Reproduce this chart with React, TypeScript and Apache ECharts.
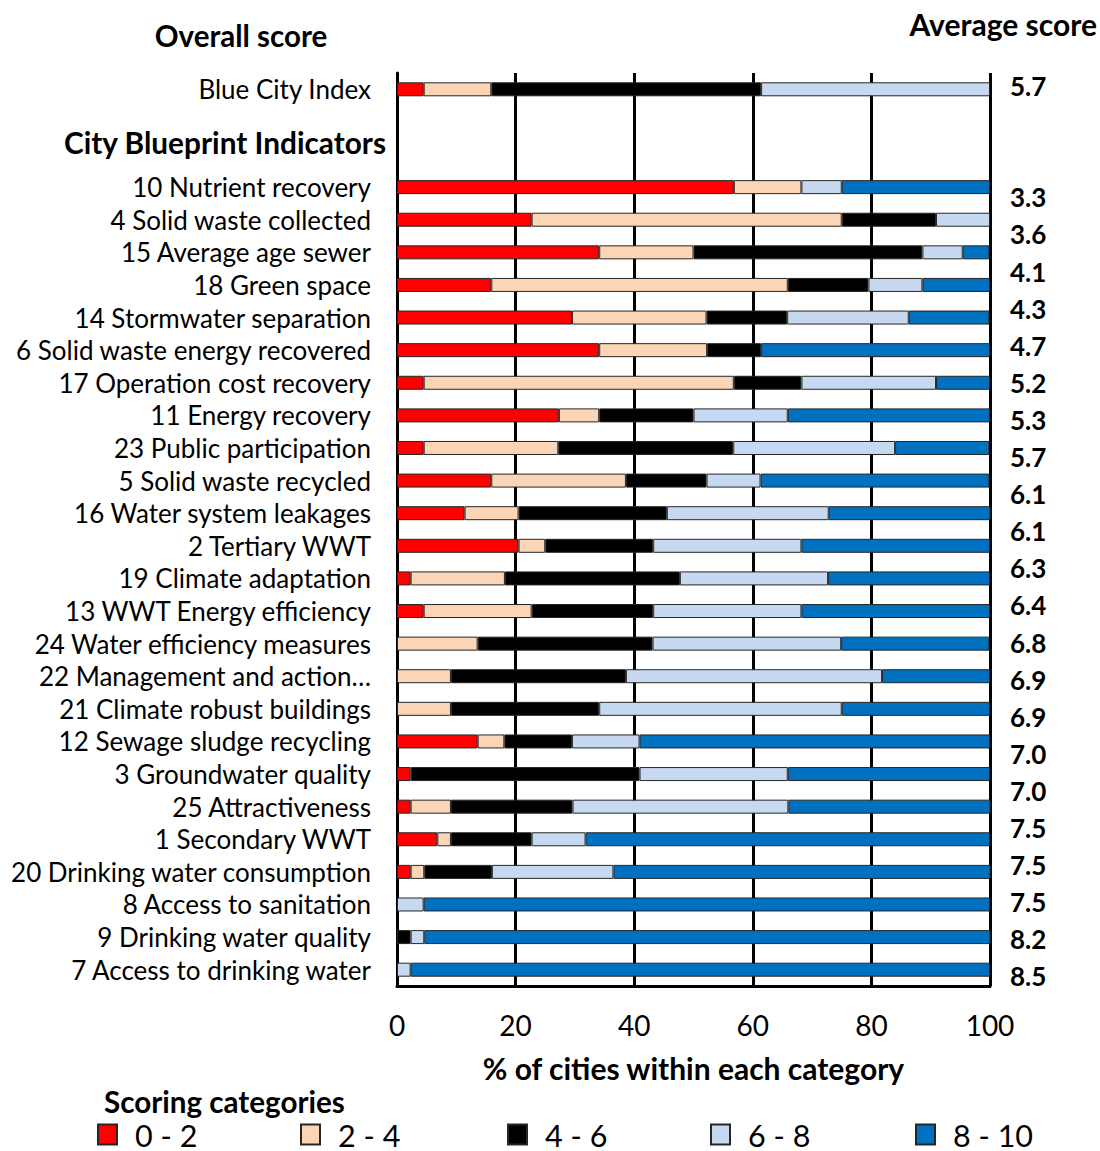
import React, { useEffect, useRef } from "react";
import * as echarts from "echarts";

// Row labels (top to bottom); two empty rows hold the "City Blueprint Indicators" heading
const categories = [
  "Blue City Index",
  "",
  "",
  "10 Nutrient recovery",
  "4 Solid waste collected",
  "15 Average age sewer",
  "18 Green space",
  "14 Stormwater separation",
  "6 Solid waste energy recovered",
  "17 Operation cost recovery",
  "11 Energy recovery",
  "23 Public participation",
  "5 Solid waste recycled",
  "16 Water system leakages",
  "2 Tertiary WWT",
  "19 Climate adaptation",
  "13 WWT Energy efficiency",
  "24 Water efficiency measures",
  "22 Management and action\u2026",
  "21 Climate robust buildings",
  "12 Sewage sludge recycling",
  "3 Groundwater quality",
  "25 Attractiveness",
  "1 Secondary WWT",
  "20 Drinking water consumption",
  "8 Access to sanitation",
  "9 Drinking water quality",
  "7 Access to drinking water",
];

// % of cities in each scoring category
const score0to2 = [4.5, null, null, 56.8, 22.7, 34.1, 15.9, 29.5, 34.1, 4.5, 27.3, 4.5, 15.9, 11.4, 20.5, 2.3, 4.5, 0, 0, 0, 13.6, 2.3, 2.3, 6.8, 2.3, 0, 0, 0];
const score2to4 = [11.4, null, null, 11.4, 52.3, 15.9, 50.0, 22.7, 18.2, 52.3, 6.8, 22.7, 22.7, 9.1, 4.5, 15.9, 18.2, 13.6, 9.1, 9.1, 4.5, 0, 6.8, 2.3, 2.3, 0, 0, 0];
const score4to6 = [45.5, null, null, 0, 15.9, 38.6, 13.6, 13.6, 9.1, 11.4, 15.9, 29.5, 13.6, 25.0, 18.2, 29.5, 20.5, 29.5, 29.5, 25.0, 11.4, 38.6, 20.5, 13.6, 11.4, 0, 2.3, 0];
const score6to8 = [38.6, null, null, 6.8, 9.1, 6.8, 9.1, 20.5, 0, 22.7, 15.9, 27.3, 9.1, 27.3, 25.0, 25.0, 25.0, 31.8, 43.2, 40.9, 11.4, 25.0, 36.4, 9.1, 20.5, 4.5, 2.3, 2.3];
const score8to10 = [0, null, null, 25.0, 0, 4.5, 11.4, 13.6, 38.6, 9.1, 34.1, 15.9, 38.6, 27.3, 31.8, 27.3, 31.8, 25.0, 18.2, 25.0, 59.1, 34.1, 34.1, 68.2, 63.6, 95.5, 95.5, 97.7];

// Average scores (right-hand column); two empty rows after the index
const averageScores = ["5.7", "", "", "3.3", "3.6", "4.1", "4.3", "4.7", "5.2", "5.3", "5.7", "6.1", "6.1", "6.3", "6.4", "6.8", "6.9", "6.9", "7.0", "7.0", "7.5", "7.5", "7.5", "8.2", "8.5"];

const seriesNames = ["0 - 2", "2 - 4", "4 - 6", "6 - 8", "8 - 10"];
const seriesColors = ["#FF0000", "#FBD5B5", "#000000", "#C6D9F1", "#0070C0"];
const seriesValues = [score0to2, score2to4, score4to6, score6to8, score8to10];

const xTicks = [0, 20, 40, 60, 80, 100];

const FONT = "Lato";

export default function App() {
  const ref = useRef<HTMLDivElement>(null);
  useEffect(() => {
    document.body.style.margin = "0";
    const chart = echarts.init(ref.current!, null, { renderer: "svg" });
    const legendLefts = [97, 300, 507, 710, 915];
    const option: any = {
      animation: false,
      backgroundColor: "#ffffff",
      textStyle: { fontFamily: FONT },
      grid: [
        { left: 397, right: 110, top: 73, bottom: 165, containLabel: false },
        { left: 900, right: 98, top: 67.5, height: 927.5, containLabel: false },
      ],
      legend: seriesNames.map((n, i) => ({
        data: [n],
        left: legendLefts[i],
        top: 1119,
        padding: 0,
        icon: "rect",
        itemWidth: 19,
        itemHeight: 20,
        itemGap: 0,
        selectedMode: false,
        textStyle: { fontFamily: FONT, fontSize: 30.5, lineHeight: 30, color: "#000", padding: [0, 0, 0, 13] },
      })),
      xAxis: [
        {
          gridIndex: 0,
          type: "value",
          min: xTicks[0],
          max: xTicks[xTicks.length - 1],
          interval: 20,
          axisLine: { show: true, lineStyle: { color: "#000", width: 3 } },
          axisTick: { show: false },
          splitLine: { show: true, lineStyle: { color: "#000", width: 3 } },
          axisLabel: { fontFamily: FONT, fontSize: 28, color: "#000", margin: 25 },
          name: "% of cities within each category",
          nameLocation: "middle",
          nameGap: 67,
          nameTextStyle: { fontFamily: FONT, fontSize: 30, fontWeight: "bold", color: "#000" },
        },
        { gridIndex: 1, type: "value", show: false, min: 0, max: 1 },
      ],
      yAxis: [
        {
          gridIndex: 0,
          type: "category",
          inverse: true,
          data: categories.map((_, i) => String(i)),
          axisLine: { show: true, lineStyle: { color: "#000", width: 3 } },
          axisTick: { show: false },
          splitLine: { show: false },
          axisLabel: {
            fontFamily: FONT,
            fontSize: 26,
            color: "#000",
            margin: 26,
            interval: 0,
            formatter: (_v: string, i: number) => categories[i],
          },
        },
        {
          gridIndex: 1,
          type: "category",
          inverse: true,
          position: "right",
          data: averageScores.map((_, i) => "s" + i),
          axisLine: { show: false },
          axisTick: { show: false },
          splitLine: { show: false },
          axisLabel: {
            fontFamily: FONT,
            fontSize: 26,
            fontWeight: "bold",
            color: "#000",
            margin: 8,
            interval: 0,
            formatter: (_v: string, i: number) => averageScores[i],
          },
        },
      ],
      series: [
        ...seriesNames.map((name, si) => ({
          name,
          type: "bar",
          stack: "total",
          xAxisIndex: 0,
          yAxisIndex: 0,
          barWidth: 14,
          itemStyle: { color: seriesColors[si], borderColor: "#262626", borderWidth: 1 },
          emphasis: { disabled: true },
          data: seriesValues[si].map((v) => (v === 0 || v === null ? "-" : v)),
        })),
        {
          name: "avg",
          type: "bar",
          xAxisIndex: 1,
          yAxisIndex: 1,
          data: averageScores.map(() => "-"),
          silent: true,
        },
      ],
      graphic: [
        {
          type: "text",
          x: 241,
          y: 35,
          style: { text: "Overall score", align: "center", verticalAlign: "middle", fontFamily: FONT, fontSize: 29.5, fontWeight: "bold", fill: "#000" },
        },
        {
          type: "text",
          x: 1097,
          y: 24,
          style: { text: "Average score", align: "right", verticalAlign: "middle", fontFamily: FONT, fontSize: 30, fontWeight: "bold", fill: "#000" },
        },
        {
          type: "text",
          x: 386,
          y: 142,
          style: { text: "City Blueprint Indicators", align: "right", verticalAlign: "middle", fontFamily: FONT, fontSize: 29.8, fontWeight: "bold", fill: "#000" },
        },
        {
          type: "text",
          x: 104,
          y: 1101,
          style: { text: "Scoring categories", align: "left", verticalAlign: "middle", fontFamily: FONT, fontSize: 29.6, fontWeight: "bold", fill: "#000" },
        },
      ],
    };
    chart.setOption(option);
    return () => chart.dispose();
  }, []);
  return <div ref={ref} style={{ width: 1100, height: 1151 }} />;
}
